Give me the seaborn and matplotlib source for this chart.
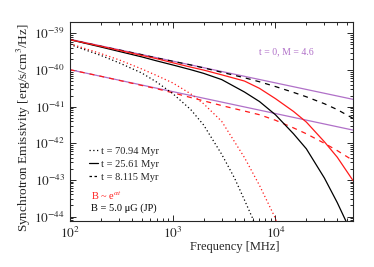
import numpy as np
import pandas as pd
import seaborn as sns
import matplotlib
matplotlib.use("Agg")
import matplotlib.pyplot as plt
from matplotlib.lines import Line2D
from matplotlib.ticker import LogLocator, NullFormatter

# frequencies in MHz, emissivities as log10 values
freq = [100, 200, 300, 500, 700, 1000, 1500, 2000, 3000, 5000, 7000,
        10000, 15000, 20000, 30000, 40000, 57000]

# t = 0, M = 4.6 power laws (two of them)
pl_freq = [100, 57000]
pl_upper = [-39.16, -40.80]
pl_lower = [-39.99, -41.64]

# t = 8.115 Myr (dashed)
jp_dash = [-39.17, -39.35, -39.45, -39.58, -39.67, -39.76, -39.86, -39.94, -40.06,
           -40.21, -40.32, -40.45, -40.61, -40.73, -40.92, -41.08, -41.32]
exp_dash = [-39.99, -40.17, -40.28, -40.42, -40.51, -40.62, -40.75, -40.84, -40.97,
            -41.12, -41.22, -41.37, -41.58, -41.74, -42.00, -42.20, -42.47]

# t = 25.61 Myr (solid)
solid_freq = [100, 200, 300, 500, 700, 1000, 1500, 2000, 3000, 5000, 7000,
              10000, 15000, 20000, 30000, 40000, 50000]
jp_solid = [-39.17, -39.37, -39.49, -39.64, -39.75, -39.86, -39.99, -40.09, -40.26,
            -40.60, -40.86, -41.22, -41.74, -42.15, -42.95, -43.62, -44.20]
exp_solid = [-39.17, -39.35, -39.46, -39.60, -39.69, -39.80, -39.92, -40.00, -40.13,
             -40.30, -40.50, -40.78, -41.13, -41.42, -41.96, -42.38, -43.02]

# t = 70.94 Myr (dotted)
jp_dot_freq = [100, 200, 300, 500, 700, 1000, 1500, 2000, 3000, 4000, 5000, 6000, 7000]
jp_dot = [-39.30, -39.60, -39.80, -40.08, -40.33, -40.64, -41.08, -41.50, -42.30,
          -42.95, -43.55, -44.05, -44.60]
exp_dot_freq = [100, 200, 300, 500, 700, 1000, 1500, 2000, 3000, 5000, 7000, 10000, 11000]
exp_dot = [-39.28, -39.55, -39.72, -39.97, -40.15, -40.35, -40.65, -40.92, -41.40,
           -42.39, -43.15, -44.05, -44.40]

ytick_exp = [-44, -43, -42, -41, -40, -39]
xtick_exp = [2, 3, 4]

purple = "#b070c8"
red = "#ff1a1a"

sns.set_style("ticks")
plt.rcParams["font.family"] = ["Liberation Serif", "DejaVu Serif"]
plt.rcParams["mathtext.fontset"] = "stix"

fig = plt.figure(figsize=(3.74, 2.67), dpi=100)
ax = fig.add_axes([0.187, 0.172, 0.757, 0.744])

curves = [
    (pl_freq, pl_upper, purple, "-"),
    (pl_freq, pl_lower, purple, "-"),
    (freq, jp_dash, "black", (0, (4, 4))),
    (freq, exp_dash, red, (0, (4, 4))),
    (solid_freq, jp_solid, "black", "-"),
    (freq, exp_solid, red, "-"),
    (jp_dot_freq, jp_dot, "black", (0, (1, 2))),
    (exp_dot_freq, exp_dot, red, (0, (1, 2))),
]
for fx, fy, col, ls in curves:
    df = pd.DataFrame({"f": fx, "e": 10.0 ** np.array(fy)})
    sns.lineplot(data=df, x="f", y="e", ax=ax, color=col, linestyle=ls,
                 linewidth=0.9, sort=False)

ax.set_xscale("log")
ax.set_yscale("log")
ax.set_xlim(100, 57000)
ax.set_ylim(7.5e-45, 2e-39)
ax.set_xlabel("Frequency [MHz]", fontsize=9)
ax.set_ylabel("Synchrotron Emissivity [erg/s/cm$^3$/Hz]", fontsize=9.5)
ax.xaxis.set_label_coords(0.583, -0.1)
ax.yaxis.set_label_coords(-0.13, 0.471)

ax.set_yticks([10.0 ** e for e in ytick_exp],
              [r"$10^{%d}$" % e for e in ytick_exp])
ax.set_xticks([10.0 ** e for e in xtick_exp],
              [r"$10^{%d}$" % e for e in xtick_exp])
ax.yaxis.set_minor_locator(LogLocator(base=10, subs=np.arange(2, 10), numticks=20))
ax.yaxis.set_minor_formatter(NullFormatter())
ax.xaxis.set_minor_formatter(NullFormatter())
ax.tick_params(which="both", direction="in", top=True, right=True, width=0.7)
ax.tick_params(which="major", length=4, labelsize=9.5)
ax.tick_params(which="minor", length=2)
for s in ax.spines.values():
    s.set_linewidth(0.8)

ax.text(0.763, 0.851, "t = 0, M = 4.6", color=purple, fontsize=7,
        ha="center", va="center", transform=ax.transAxes)

handles = [Line2D([], [], color="black", lw=0.9, ls=(0, (1, 2))),
           Line2D([], [], color="black", lw=0.9, ls="-"),
           Line2D([], [], color="black", lw=0.9, ls=(0, (2, 2)))]
labels = ["t = 70.94 Myr", "t = 25.61 Myr", "t = 8.115 Myr"]
ax.legend(handles, labels, loc="upper left", bbox_to_anchor=(0.068, 0.375),
          frameon=False, fontsize=7.5, handlelength=0.8, handletextpad=0.3,
          labelspacing=0.35, borderpad=0, borderaxespad=0)
ax.text(0.075, 0.131, r"B ~ e$^{\alpha t}$", color=red, fontsize=7.5,
        va="center", transform=ax.transAxes)
ax.text(0.075, 0.065, "B = 5.0 μG (JP)", color="black", fontsize=7.5,
        va="center", transform=ax.transAxes)

fig.savefig("out.png", dpi=100)
